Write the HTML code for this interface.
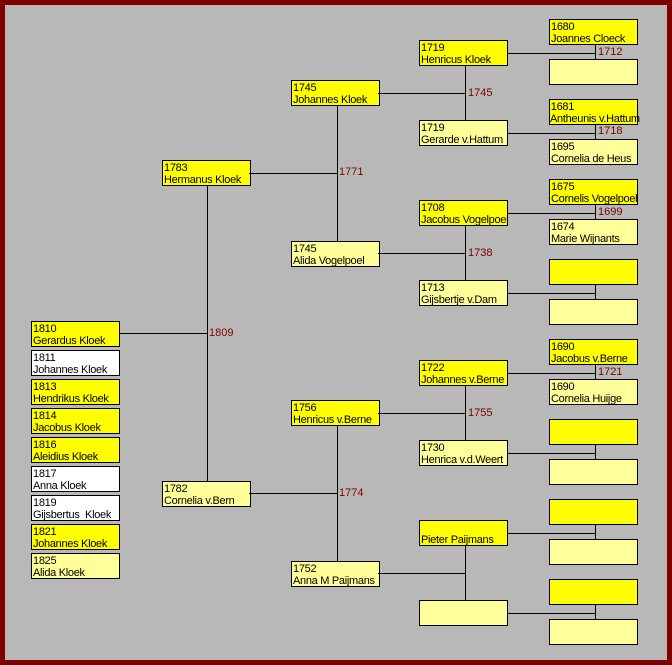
<!DOCTYPE html>
<html><head><meta charset="utf-8"><style>
html,body{margin:0;padding:0}
body{width:672px;height:665px;position:relative;overflow:hidden;background:#800000}
#bg{position:absolute;left:5px;top:5px;width:662px;height:655px;background-color:#c4c4c4;
background-image:radial-gradient(#9a9a9a 0.7px,transparent 0.8px);background-size:2px 2px}
.b{position:absolute;box-sizing:border-box;border:1px solid #000;font-family:"Liberation Sans",Arial,sans-serif;font-size:11px;letter-spacing:-0.3px;line-height:12px;padding:1px 0 0 1px;white-space:nowrap;color:#000}
.y{background:#ffff00}.l{background:#ffff99}.w{background:#fff}
.g1{width:89px;height:26px}
.h{position:absolute;height:1px;background:#000}
.v{position:absolute;width:1px;background:#000}
.t{position:absolute;font-family:"Liberation Sans",Arial,sans-serif;font-size:11px;line-height:12px;color:#800000}
</style></head><body>
<div id="bg"></div>

<div class="b g1 y" style="left:31px;top:321px">1810<br>Gerardus Kloek</div>
<div class="b g1 w" style="left:31px;top:350px">1811<br>Johannes Kloek</div>
<div class="b g1 y" style="left:31px;top:379px">1813<br>Hendrikus Kloek</div>
<div class="b g1 y" style="left:31px;top:408px">1814<br>Jacobus Kloek</div>
<div class="b g1 y" style="left:31px;top:437px">1816<br>Aleidius Kloek</div>
<div class="b g1 w" style="left:31px;top:466px">1817<br>Anna Kloek</div>
<div class="b g1 w" style="left:31px;top:495px">1819<br>Gijsbertus&nbsp; Kloek</div>
<div class="b g1 y" style="left:31px;top:524px">1821<br>Johannes Kloek</div>
<div class="b g1 l" style="left:31px;top:553px">1825<br>Alida Kloek</div>

<div class="h" style="left:119px;top:333px;width:88px"></div>
<div class="v" style="left:207px;top:186px;height:295px"></div>
<div class="t" style="left:209px;top:327px">1809</div>
<div class="b g1 y" style="left:162px;top:160px">1783<br>Hermanus Kloek</div>
<div class="b g1 l" style="left:162px;top:481px">1782<br>Cornelia v.Bern</div>

<div class="h" style="left:249px;top:173px;width:88px"></div>
<div class="v" style="left:337px;top:106px;height:135px"></div>
<div class="t" style="left:339px;top:166px">1771</div>
<div class="h" style="left:249px;top:493px;width:88px"></div>
<div class="v" style="left:337px;top:426px;height:135px"></div>
<div class="t" style="left:339px;top:487px">1774</div>
<div class="b g1 y" style="left:291px;top:80px">1745<br>Johannes Kloek</div>
<div class="b g1 l" style="left:291px;top:241px">1745<br>Alida Vogelpoel</div>
<div class="b g1 y" style="left:291px;top:400px">1756<br>Henricus v.Berne</div>
<div class="b g1 l" style="left:291px;top:561px">1752<br>Anna M Paijmans</div>

<div class="h" style="left:378px;top:93px;width:87px"></div>
<div class="v" style="left:465px;top:66px;height:54px"></div>
<div class="t" style="left:468px;top:87px">1745</div>
<div class="h" style="left:378px;top:253px;width:87px"></div>
<div class="v" style="left:465px;top:226px;height:54px"></div>
<div class="t" style="left:468px;top:247px">1738</div>
<div class="h" style="left:378px;top:413px;width:87px"></div>
<div class="v" style="left:465px;top:386px;height:54px"></div>
<div class="t" style="left:468px;top:407px">1755</div>
<div class="h" style="left:378px;top:573px;width:87px"></div>
<div class="v" style="left:465px;top:546px;height:54px"></div>

<div class="b g1 y" style="left:419px;top:40px">1719<br>Henricus Kloek</div>
<div class="b g1 l" style="left:419px;top:120px">1719<br>Gerarde v.Hattum</div>
<div class="b g1 y" style="left:419px;top:200px">1708<br>Jacobus Vogelpoel</div>
<div class="b g1 l" style="left:419px;top:280px">1713<br>Gijsbertje v.Dam</div>
<div class="b g1 y" style="left:419px;top:360px">1722<br>Johannes v.Berne</div>
<div class="b g1 l" style="left:419px;top:440px">1730<br>Henrica v.d.Weert</div>
<div class="b g1 y" style="left:419px;top:520px"><br>Pieter Paijmans</div>
<div class="b g1 l" style="left:419px;top:600px"></div>

<div class="h" style="left:508px;top:53px;width:87px"></div><div class="v" style="left:595px;top:45px;height:14px"></div><div class="t" style="left:598px;top:46px">1712</div>
<div class="h" style="left:508px;top:133px;width:87px"></div><div class="v" style="left:595px;top:125px;height:14px"></div><div class="t" style="left:598px;top:125px">1718</div>
<div class="h" style="left:508px;top:213px;width:87px"></div><div class="v" style="left:595px;top:205px;height:14px"></div><div class="t" style="left:598px;top:206px">1699</div>
<div class="h" style="left:508px;top:293px;width:87px"></div><div class="v" style="left:595px;top:285px;height:14px"></div>
<div class="h" style="left:508px;top:373px;width:87px"></div><div class="v" style="left:595px;top:365px;height:14px"></div><div class="t" style="left:598px;top:366px">1721</div>
<div class="h" style="left:508px;top:453px;width:87px"></div><div class="v" style="left:595px;top:445px;height:14px"></div>
<div class="h" style="left:508px;top:533px;width:87px"></div><div class="v" style="left:595px;top:525px;height:14px"></div>
<div class="h" style="left:508px;top:613px;width:87px"></div><div class="v" style="left:595px;top:605px;height:14px"></div>

<div class="b g1 y" style="left:549px;top:19px">1680<br>Joannes Cloeck</div>
<div class="b g1 l" style="left:549px;top:59px"></div>
<div class="b g1 y" style="left:549px;top:99px;padding-left:0"><span style="margin-left:-2px">&nbsp;1681<br>Antheunis v.Hattum</span></div>
<div class="b g1 l" style="left:549px;top:139px">1695<br>Cornelia de Heus</div>
<div class="b g1 y" style="left:549px;top:179px">1675<br>Cornelis Vogelpoel</div>
<div class="b g1 l" style="left:549px;top:219px">1674<br>Marie Wijnants</div>
<div class="b g1 y" style="left:549px;top:259px"></div>
<div class="b g1 l" style="left:549px;top:299px"></div>
<div class="b g1 y" style="left:549px;top:339px">1690<br>Jacobus v.Berne</div>
<div class="b g1 l" style="left:549px;top:379px">1690<br>Cornelia Huijge</div>
<div class="b g1 y" style="left:549px;top:419px"></div>
<div class="b g1 l" style="left:549px;top:459px"></div>
<div class="b g1 y" style="left:549px;top:499px"></div>
<div class="b g1 l" style="left:549px;top:539px"></div>
<div class="b g1 y" style="left:549px;top:579px"></div>
<div class="b g1 l" style="left:549px;top:619px"></div>
</body></html>
